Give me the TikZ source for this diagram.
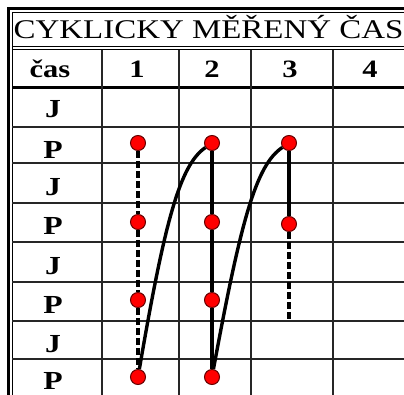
\documentclass[tikz,border=0pt]{standalone}
\usepackage{fontspec}
\setmainfont[FakeStretch=1.22]{Liberation Serif}

\begin{document}
\begin{tikzpicture}[
  x=1pt, y=-1pt,
  rule/.style={line width=1.7pt, black!85},
  heading/.style={anchor=base west, inner sep=0pt, font=\fontsize{27}{27}\selectfont},
  colhead/.style={anchor=base, inner sep=0pt, font=\fontsize{25}{25}\selectfont\bfseries},
  rowlbl/.style={anchor=base, inner sep=0pt, font=\fontsize{26}{26}\selectfont\bfseries},
  meas/.style={circle, draw=black!60!red, fill=red, line width=1pt, inner sep=0pt, minimum size=15pt},
  link/.style={line width=3.4pt},
  dlink/.style={line width=3.2pt, dash pattern=on 7pt off 3pt}
]
\useasboundingbox (0,0) rectangle (404,394);
\clip (0,0) rectangle (404,394);

% Table frame
\draw[line width=3pt] (8.5,420) -- (8.5,8.5) -- (430,8.5);
\draw[line width=1.2pt] (12.5,420) -- (12.5,12.5) -- (430,12.5);
\draw[line width=1.2pt] (12,46.5) -- (430,46.5);
\draw[line width=1.2pt] (12,49.5) -- (430,49.5);
\draw[line width=3pt] (12,87) -- (430,87);

% Grid
\foreach \y in {127,163,203,242,282,321,359} \draw[rule] (12,\y) -- (430,\y);
\foreach \x in {102,179,251,333} \draw[rule] (\x,49.5) -- (\x,420);

% Title and header
\node[heading] (title) at (13.5,38.5) {CYKLICKY MĚŘENÝ ČAS};
\node[colhead] (hcas) at (50,77) {čas};
\node[colhead] (h1) at (137,77) {1};
\node[colhead] (h2) at (212,77) {2};
\node[colhead] (h3) at (290,77) {3};
\node[colhead] (h4) at (370,77) {4};

% Row labels
\node[rowlbl] (r1) at (53,117) {J};
\node[rowlbl] (r2) at (53,158) {P};
\node[rowlbl] (r3) at (53,195) {J};
\node[rowlbl] (r4) at (53,234) {P};
\node[rowlbl] (r5) at (53,274) {J};
\node[rowlbl] (r6) at (53,313) {P};
\node[rowlbl] (r7) at (53,352) {J};
\node[rowlbl] (r8) at (53,389) {P};

% Measured points
\node[meas] (a1) at (138,143) {};
\node[meas] (a2) at (138,222) {};
\node[meas] (a3) at (138,300) {};
\node[meas] (a4) at (138,377) {};
\node[meas] (b1) at (212,143) {};
\node[meas] (b2) at (212,222) {};
\node[meas] (b3) at (212,300) {};
\node[meas] (b4) at (212,377) {};
\node[meas] (c1) at (289,143) {};
\node[meas] (c2) at (289,224) {};
\coordinate (cend) at (289,319);

% Connections
\draw[dlink] (a1) -- (a2);
\draw[dlink] (a2) -- (a3);
\draw[dlink] (a3) -- (a4);
\draw[link] (b1) -- (b2);
\draw[link] (b2) -- (b3);
\draw[link] (b3) -- (b4);
\draw[link] (c1) -- (c2);
\draw[dlink] (c2) -- (cend);
\draw[link] (a4) .. controls (165,220) and (180,165) .. (b1);
\draw[link] (b4) .. controls (241,220) and (256,165) .. (c1);

\end{tikzpicture}
\end{document}
